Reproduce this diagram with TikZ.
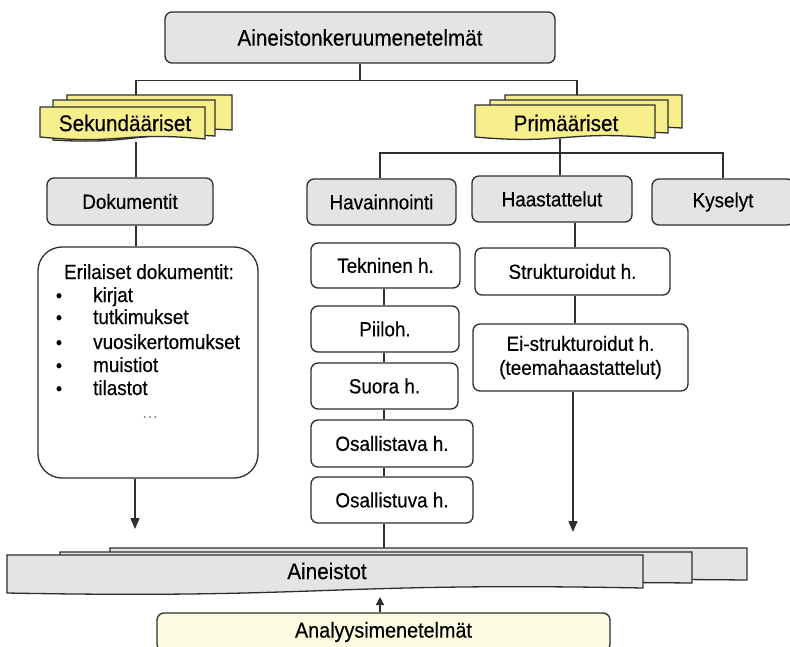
\documentclass[tikz,border=0pt]{standalone}
\usepackage{fontspec}
\setmainfont{Liberation Sans}[FakeStretch=0.92,FakeBold=0.35]
\usetikzlibrary{arrows.meta}
\definecolor{boxgray}{HTML}{E4E4E4}
\definecolor{docyellow}{HTML}{F7EF8C}
\definecolor{paleyellow}{HTML}{FCFCE0}
\definecolor{lineC}{HTML}{2E2E2E}
\newcommand\docpage[7]{%
  \draw[docline,fill=#7] (#1,#2) -- (#3,#2) -- (#3,#5)
    .. controls ({(#1+#3)/2},{#5-#6}) and ({(#1+#3)/2},{#4+#6}) .. (#1,#4) -- cycle;}
\begin{document}
\begin{tikzpicture}[x=1pt,y=-1pt,
  box/.style={draw=lineC, line width=1.3pt, rounded corners=7pt, inner sep=0pt, align=center,
    font=\fontsize{20.5}{24}\selectfont},
  graybox/.style={box, fill=boxgray},
  whitebox/.style={box, fill=white},
  docline/.style={draw=lineC, line width=1.3pt},
  bigtext/.style={font=\fontsize{22.5}{26}\selectfont, inner sep=0pt},
  listtext/.style={font=\fontsize{20.5}{24}\selectfont, inner sep=0pt, anchor=base west},
  conn/.style={draw=lineC, line width=1.3pt},
  arr/.style={conn, -{Triangle[length=11pt,width=9pt]}},
  arrsmall/.style={conn, -{Triangle[length=8pt,width=8pt]}}
]
\useasboundingbox (0,0) rectangle (790,646);
\clip (0,0) rectangle (790,646);

% title
\node[graybox, minimum width=390pt, minimum height=51pt, font=\fontsize{22.5}{26}\selectfont] (title) at (360,37.5) {Aineistonkeruumenetelmät};

% Sekundääriset multidocument
\docpage{67}{95}{232}{134}{130}{5}{docyellow}
\docpage{53}{100}{215}{140}{136}{5}{docyellow}
\docpage{40}{107}{205}{137}{139}{8}{docyellow}
\node[bigtext] (sek) at (125,123) {Sekundääriset};
\coordinate (sekTop) at (136,95);
\coordinate (sekBot) at (136,142);

% Primääriset multidocument
\docpage{505}{95}{682}{130}{128}{5}{docyellow}
\docpage{490}{100}{668}{136}{133}{5}{docyellow}
\docpage{475}{105}{655}{137}{138}{8}{docyellow}
\node[bigtext] (pri) at (566,123) {Primääriset};
\coordinate (priTop) at (577,95);
\coordinate (priBot) at (560,139);

% second level
\node[graybox, minimum width=166pt, minimum height=47pt] (dok) at (130,201.5) {Dokumentit};
\node[graybox, minimum width=149pt, minimum height=46pt] (hav) at (381.5,202) {Havainnointi};
\node[graybox, minimum width=160pt, minimum height=46pt] (haa) at (552,199) {Haastattelut};
\node[graybox, minimum width=142pt, minimum height=46pt] (kys) at (723,202) {Kyselyt};

% documents list
\node[whitebox, rounded corners=24pt, minimum width=220pt, minimum height=231pt] (eri) at (148,362.5) {};
\node[font=\fontsize{20.5}{24}\selectfont, inner sep=0pt, anchor=base] (erihead) at (149,279) {Erilaiset dokumentit:};
\foreach \name/\txt/\yy in {b1/kirjat/302, b2/tutkimukset/324, b3/vuosikertomukset/349, b4/muistiot/372, b5/tilastot/395}{
  \node[listtext] (\name) at (93,\yy) {\txt};
  \node[font=\fontsize{19}{23}\selectfont, inner sep=0pt, anchor=base] (\name dot) at (59,\yy) {•};
}
\node[font=\fontsize{15}{17}\selectfont, text=black!45, inner sep=0pt] (dots) at (150,417) {.\kern1.5pt.\kern1.5pt.};

% observation column
\node[whitebox, minimum width=149pt, minimum height=45pt] (tek) at (385.5,265.5) {Tekninen h.};
\node[whitebox, minimum width=148pt, minimum height=46pt] (pii) at (385,329) {Piiloh.};
\node[whitebox, minimum width=147pt, minimum height=46pt] (suo) at (384.5,386) {Suora h.};
\node[whitebox, minimum width=162pt, minimum height=47pt] (osa) at (392,443.5) {Osallistava h.};
\node[whitebox, minimum width=162pt, minimum height=46pt] (osu) at (392,500) {Osallistuva h.};

% interview column
\node[whitebox, minimum width=195pt, minimum height=47pt] (str) at (572.5,271.5) {Strukturoidut h.};
\node[whitebox, minimum width=215pt, minimum height=67pt] (eis) at (580.5,357.5) {Ei-strukturoidut h.\\(teemahaastattelut)};

% Aineistot multidocument
\docpage{110}{548}{747}{582}{580}{3}{boxgray}
\docpage{60}{552}{692}{586}{583}{3}{boxgray}
\docpage{7}{555}{643}{593}{588}{6}{boxgray}
\node[bigtext] (ain) at (327,571) {Aineistot};
\coordinate (ainTop) at (384,548);

% Analyysimenetelmät
\node[box, fill=paleyellow, minimum width=453pt, minimum height=38pt, font=\fontsize{21.5}{25}\selectfont] (ana) at (383.5,632) {Analyysimenetelmät};

% connectors
\draw[conn] (title.south) -- ++(0,17) coordinate (tj);
\draw[conn] (sekTop) |- (tj) -| (priTop);
\draw[conn] (sekBot) -- (sekBot |- dok.north);
\draw[conn] (sekBot |- dok.south) -- (sekBot |- eri.north);
\coordinate (tipL) at (135,529);
\draw[arr] (tipL |- eri.south) -- (tipL);

\draw[conn] (priBot) -- ++(0,14) coordinate (pj);
\draw[conn] (priBot) -- (priBot |- haa.north);
\draw[conn] (380,0 |- hav.north) |- (pj) -| (kys.north);

\coordinate (colH) at (384,0);
\draw[conn] (colH |- tek.south) -- (colH |- pii.north);
\draw[conn] (colH |- pii.south) -- (colH |- suo.north);
\draw[conn] (colH |- suo.south) -- (colH |- osa.north);
\draw[conn] (colH |- osa.south) -- (colH |- osu.north);
\draw[conn] (colH |- osu.south) -- (ainTop);

\coordinate (colS) at (575,0);
\draw[conn] (colS |- haa.south) -- (colS |- str.north);
\draw[conn] (colS |- str.south) -- (colS |- eis.north);
\coordinate (tipR) at (573,532);
\draw[arr] (tipR |- eis.south) -- (tipR);

\coordinate (tipA) at (380,597);
\draw[arrsmall] (tipA |- ana.north) -- (tipA);
\end{tikzpicture}
\end{document}
